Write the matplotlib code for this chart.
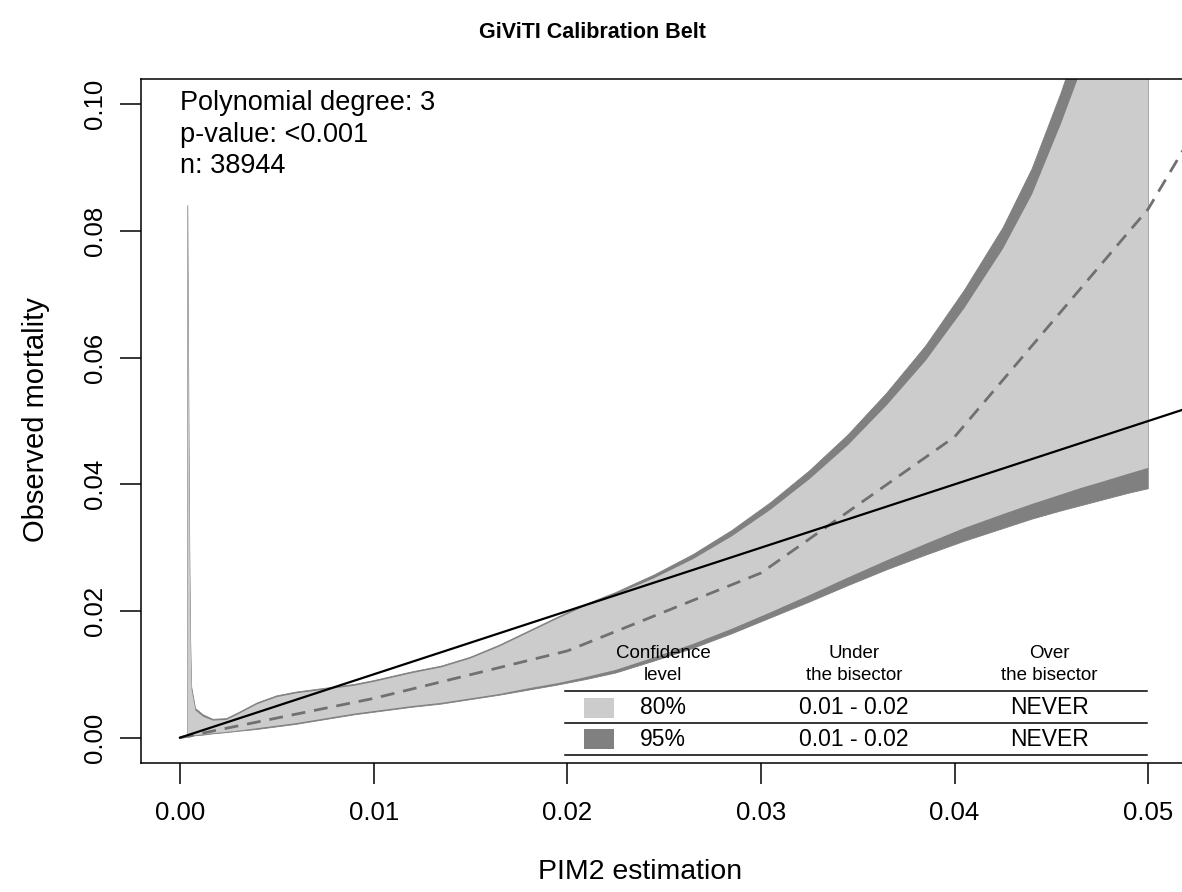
import matplotlib
matplotlib.use('Agg')
import matplotlib.pyplot as plt
from matplotlib.patches import Rectangle
from matplotlib.lines import Line2D

plt.rcParams['font.family'] = ['Liberation Sans', 'DejaVu Sans']

# ---------------- data ----------------
belt_x = [0.0004, 0.00045, 0.0005, 0.00055, 0.0006, 0.0008, 0.0012, 0.0017, 0.0024,
          0.003, 0.004, 0.005, 0.006, 0.007, 0.008, 0.009, 0.010, 0.011, 0.012,
          0.0135, 0.015, 0.0165, 0.018, 0.0195, 0.021, 0.0225, 0.0245, 0.0265,
          0.0285, 0.0305, 0.0325, 0.0345, 0.0365, 0.0385, 0.0405, 0.0425, 0.044,
          0.0455, 0.0465, 0.0475, 0.049, 0.050]

upper95 = [0.0840, 0.0550, 0.0300, 0.0150, 0.0080, 0.0046, 0.0036, 0.0029, 0.0030,
           0.0039, 0.0055, 0.0066, 0.0072, 0.0076, 0.0080, 0.0084, 0.0090, 0.0097, 0.0104,
           0.0113, 0.0127, 0.0146, 0.0168, 0.0190, 0.0211, 0.0229, 0.0257, 0.0289,
           0.0327, 0.0371, 0.0421, 0.0478, 0.0544, 0.0618, 0.0706, 0.0805, 0.0898,
           0.1018, 0.1108, 0.1213, 0.1395, 0.1550]

upper80 = [0.0835, 0.0540, 0.0292, 0.0145, 0.0076, 0.0043, 0.0033, 0.0027, 0.0028,
           0.0037, 0.0053, 0.0064, 0.0070, 0.0074, 0.0078, 0.0082, 0.0088, 0.0095, 0.0102,
           0.0111, 0.0125, 0.0144, 0.0166, 0.0188, 0.0209, 0.0226, 0.0252, 0.0282,
           0.0318, 0.0360, 0.0408, 0.0462, 0.0525, 0.0595, 0.0678, 0.0772, 0.0858,
           0.0970, 0.1052, 0.1148, 0.1315, 0.1460]

lower95 = [0.0000, 0.0001, 0.0001, 0.0001, 0.0002, 0.0003, 0.0004, 0.0006, 0.0008,
           0.0010, 0.0013, 0.0017, 0.0021, 0.0026, 0.0031, 0.0036, 0.0040, 0.0044, 0.0048,
           0.0053, 0.0060, 0.0067, 0.0075, 0.0083, 0.0092, 0.0102, 0.0121, 0.0141,
           0.0164, 0.0189, 0.0214, 0.0240, 0.0265, 0.0288, 0.0310, 0.0330, 0.0345,
           0.0358, 0.0366, 0.0374, 0.0386, 0.0393]

lower80 = [0.0001, 0.0002, 0.0002, 0.0002, 0.0003, 0.0004, 0.0005, 0.0007, 0.0009,
           0.0011, 0.0015, 0.0019, 0.0023, 0.0028, 0.0033, 0.0038, 0.0042, 0.0046, 0.0050,
           0.0055, 0.0062, 0.0069, 0.0078, 0.0086, 0.0096, 0.0107, 0.0127, 0.0148,
           0.0172, 0.0198, 0.0225, 0.0253, 0.0280, 0.0306, 0.0331, 0.0353, 0.0369,
           0.0384, 0.0394, 0.0403, 0.0417, 0.0426]

fitted_x = [0.00, 0.01, 0.02, 0.03, 0.04, 0.05, 0.06]
fitted_y = [0.0000, 0.0062, 0.0137, 0.0260, 0.0475, 0.0835, 0.1350]

bisector = [0.0, 0.06]

x_ticks = [0.00, 0.01, 0.02, 0.03, 0.04, 0.05]
x_tick_labels = ['0.00', '0.01', '0.02', '0.03', '0.04', '0.05']
y_ticks = [0.00, 0.02, 0.04, 0.06, 0.08, 0.10]
y_tick_labels = ['0.00', '0.02', '0.04', '0.06', '0.08', '0.10']

info_lines = ['Polynomial degree: 3', 'p-value: <0.001', 'n: 38944']

table_header = [('Confidence', 'level'), ('Under', 'the bisector'), ('Over', 'the bisector')]
conf_levels = ['80%', '95%']
under_bisector = ['0.01 - 0.02', '0.01 - 0.02']
over_bisector = ['NEVER', 'NEVER']

LIGHT = '#CCCCCC'
DARK = '#808080'
level_colors = [LIGHT, DARK]

# ---------------- figure ----------------
W, H = 1182, 892
fig = plt.figure(figsize=(W / 100, H / 100), dpi=100)

def fx(px):
    return px / W

def fy(py):
    return 1 - py / H

ax_left, ax_right, ax_top, ax_bot = 141.3, 1187.0, 79.0, 763.0
ax = fig.add_axes([fx(ax_left), fy(ax_bot), (ax_right - ax_left) / W, (ax_bot - ax_top) / H])
ax.set_xlim(-0.002, 0.052)
ax.set_ylim(-0.004, 0.104)

ax.fill_between(belt_x, lower95, upper95, color=DARK, lw=0.6, edgecolor=DARK)
ax.fill_between(belt_x, lower80, upper80, color=LIGHT, lw=0)
ax.plot(fitted_x, fitted_y, color='#707070', lw=2.0, ls=(0, (5.0, 3.2)))
ax.plot(bisector, bisector, color='black', lw=1.6)

ax.set_xticks(x_ticks)
ax.set_xticklabels(x_tick_labels)
ax.set_yticks(y_ticks)
ax.set_yticklabels(y_tick_labels, rotation=90, va='center')
ax.tick_params(direction='out', length=15, width=1.1, labelsize=18.5, color='black')
ax.tick_params(axis='x', pad=12)
ax.tick_params(axis='y', pad=10)
for s in ax.spines.values():
    s.set_linewidth(1.1)

# info text
for i, t in enumerate(info_lines):
    fig.text(fx(180), fy(103 + i * 31.5), t, fontsize=19.5, ha='left', va='center')

# titles
fig.text(fx(592), fy(33), 'GiViTI Calibration Belt', fontsize=15.5, fontweight='bold',
         ha='center', va='center')
fig.text(fx(640), fy(872), 'PIM2 estimation', fontsize=20.5, ha='center', va='center')
fig.text(fx(36), fy(420), 'Observed mortality', fontsize=21, ha='center', va='center',
         rotation=90)

# table
col_centers = [663, 854, 1049]
for c, (l1, l2) in zip(col_centers, table_header):
    fig.text(fx(c), fy(653), l1, fontsize=13.5, ha='center', va='center')
    fig.text(fx(c), fy(676), l2, fontsize=13.5, ha='center', va='center')

for yline in [691, 723, 755]:
    fig.add_artist(Line2D([fx(565), fx(1147)], [fy(yline), fy(yline)], color='black', lw=1.1))

row_y = [708, 739]
for ry, lab, ub, ob, col in zip(row_y, conf_levels, under_bisector, over_bisector, level_colors):
    fig.add_artist(Rectangle((fx(584), fy(ry + 10)), 30 / W, 20 / H, facecolor=col,
                             edgecolor='none', transform=fig.transFigure))
    fig.text(fx(640), fy(ry), lab, fontsize=16.5, ha='left', va='center')
    fig.text(fx(854), fy(ry), ub, fontsize=16.5, ha='center', va='center')
    fig.text(fx(1049), fy(ry), ob, fontsize=16.5, ha='center', va='center')

fig.savefig('out.png', dpi=100)
